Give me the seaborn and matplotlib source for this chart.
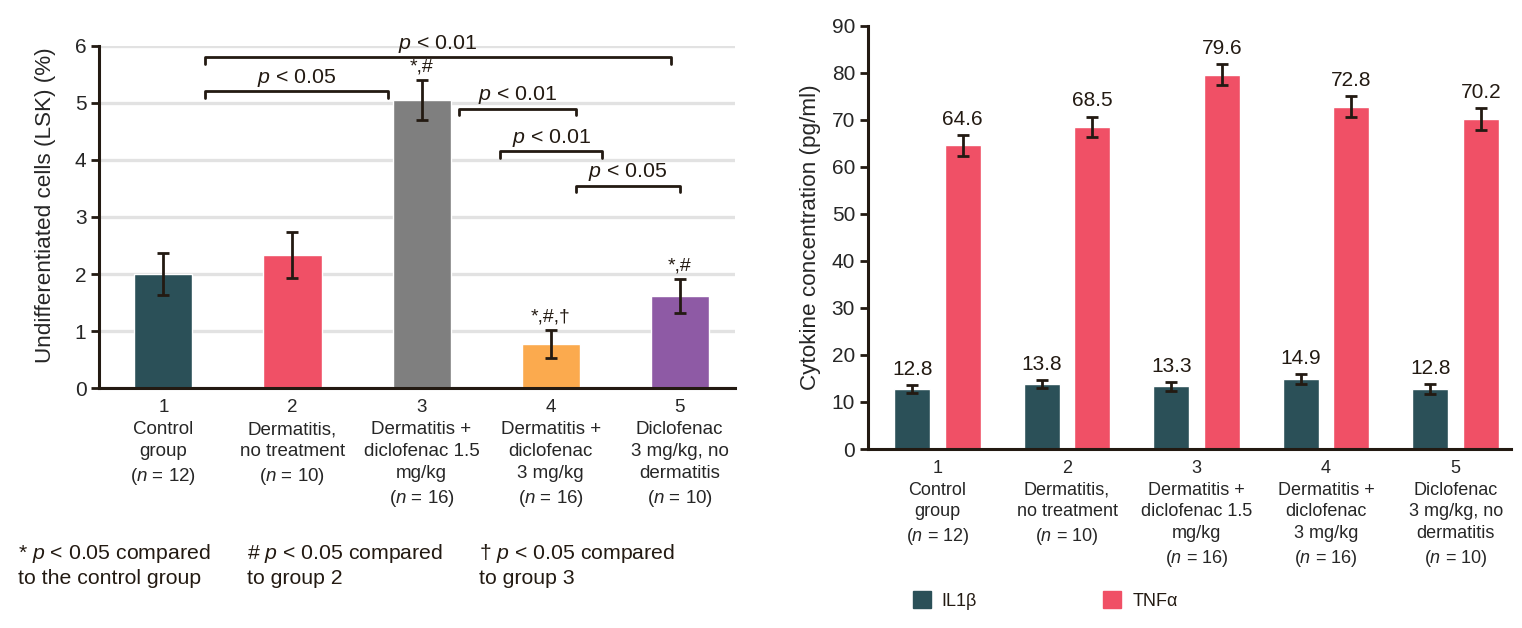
import numpy as np
import pandas as pd
import matplotlib
matplotlib.use("Agg")
import matplotlib.pyplot as plt
from matplotlib.patches import Patch
import seaborn as sns

# ---- data: left panel (LSK cells) ----
groups = ["1", "2", "3", "4", "5"]
group_labels = [
    "1\nControl\ngroup\n($\\mathit{n}$ = 12)",
    "2\nDermatitis,\nno treatment\n($\\mathit{n}$ = 10)",
    "3\nDermatitis +\ndiclofenac 1.5\nmg/kg\n($\\mathit{n}$ = 16)",
    "4\nDermatitis +\ndiclofenac\n3 mg/kg\n($\\mathit{n}$ = 16)",
    "5\nDiclofenac\n3 mg/kg, no\ndermatitis\n($\\mathit{n}$ = 10)",
]
lsk_mean = [2.0, 2.33, 5.05, 0.77, 1.61]
lsk_err = [0.37, 0.40, 0.35, 0.24, 0.30]
lsk_marks = ["", "", "*,#", "*,#,\u2020", "*,#"]
bar_colors = ["#2b5058", "#f05066", "#7f7f7f", "#fbaa4e", "#8e5aa5"]

# significance brackets: (x start, x end, height, label)
brackets = [
    (0.32, 3.93, 5.80, "$\\mathit{p}$ < 0.01"),
    (0.32, 1.74, 5.20, "$\\mathit{p}$ < 0.05"),
    (2.29, 3.20, 4.90, "$\\mathit{p}$ < 0.01"),
    (2.61, 3.40, 4.15, "$\\mathit{p}$ < 0.01"),
    (3.20, 4.00, 3.55, "$\\mathit{p}$ < 0.05"),
]

footnotes = [
    "* $\\mathit{p}$ < 0.05 compared\nto the control group",
    "# $\\mathit{p}$ < 0.05 compared\nto group 2",
    "\u2020 $\\mathit{p}$ < 0.05 compared\nto group 3",
]

# ---- data: right panel (cytokines) ----
cytokines = ["IL1\u03b2", "TNF\u03b1"]
il1b = [12.8, 13.8, 13.3, 14.9, 12.8]
il1b_err = [0.8, 0.8, 1.0, 1.0, 1.0]
tnfa = [64.6, 68.5, 79.6, 72.8, 70.2]
tnfa_err = [2.2, 2.2, 2.2, 2.3, 2.3]
cyto_colors = ["#2b5058", "#f05066"]

ink = "#231a12"

sns.set_style("white")
plt.rcParams["font.family"] = ["Liberation Sans", "DejaVu Sans"]
plt.rcParams["mathtext.fontset"] = "custom"
plt.rcParams["mathtext.it"] = "Liberation Sans:italic"
plt.rcParams["mathtext.rm"] = "Liberation Sans"
plt.rcParams["text.color"] = ink

fig = plt.figure(figsize=(15.22, 6.28), dpi=100)
ax1 = fig.add_axes([0.065, 0.382, 0.418, 0.545])
ax2 = fig.add_axes([0.570, 0.285, 0.423, 0.674])

# ---------- left panel ----------
df1 = pd.DataFrame({"group": groups, "lsk": lsk_mean})
sns.barplot(data=df1, x="group", y="lsk", hue="group", palette=bar_colors,
            legend=False, width=0.45, ax=ax1, saturation=1)
xs = np.arange(len(groups))
ax1.errorbar(xs, lsk_mean, yerr=lsk_err, fmt="none", ecolor=ink,
             elinewidth=2, capsize=4, capthick=2, zorder=4)
for x, m, e, s in zip(xs, lsk_mean, lsk_err, lsk_marks):
    if s:
        ax1.text(x, m + e + 0.08, s, ha="center", va="bottom", fontsize=14)

for x0, x1, h, lab in brackets:
    ax1.plot([x0, x0, x1, x1], [h - 0.12, h, h, h - 0.12], color=ink,
             lw=2, clip_on=False, zorder=5)
    ax1.text((x0 + x1) / 2, h + 0.04, lab, ha="center", va="bottom",
             fontsize=15.4)

ax1.set_ylim(0, 6)
ax1.set_xlim(-0.5, 4.43)
ax1.set_yticks(range(7))
ax1.yaxis.grid(True, color="#e2e2e2", lw=2.4)
ax1.set_axisbelow(True)
ax1.set_xticks(xs)
ax1.set_xticklabels(group_labels, fontsize=13.5, linespacing=1.38, va="top")
ax1.set_xlabel("")
ax1.set_ylabel("Undifferentiated cells (LSK) (%)", fontsize=16.2)
ax1.yaxis.set_label_coords(-0.068, 0.535)

# ---------- right panel ----------
df2 = pd.DataFrame({
    "group": groups * 2,
    "cytokine": [cytokines[0]] * 5 + [cytokines[1]] * 5,
    "conc": il1b + tnfa,
})
sns.barplot(data=df2, x="group", y="conc", hue="cytokine", palette=cyto_colors,
            width=0.78, gap=0.29, ax=ax2, saturation=1, legend=False)
for cont, vals, errs in zip(ax2.containers, [il1b, tnfa], [il1b_err, tnfa_err]):
    cx = [p.get_x() + p.get_width() / 2 for p in cont.patches]
    ax2.errorbar(cx, vals, yerr=errs, fmt="none", ecolor=ink, elinewidth=2,
                 capsize=4, capthick=2, zorder=4)
    for x, v, e in zip(cx, vals, errs):
        ax2.text(x, v + e + 1.3, f"{v:.1f}", ha="center", va="bottom",
                 fontsize=15)

ax2.set_ylim(0, 90)
ax2.set_xlim(-0.54, 4.43)
ax2.set_yticks(range(0, 91, 10))
ax2.set_xticks(xs)
ax2.set_xticklabels(group_labels, fontsize=13, linespacing=1.36, va="top")
ax2.set_xlabel("")
ax2.set_ylabel("Cytokine concentration (pg/ml)", fontsize=16.2, labelpad=8)

handles = [Patch(color=c) for c in cyto_colors]
ax2.legend(handles, cytokines, ncol=2, frameon=False, loc="center left",
           bbox_to_anchor=(0.045, -0.358), handlelength=1.0, handleheight=1.0,
           handletextpad=0.6, columnspacing=7.0, prop={"size": 13})

for ax in (ax1, ax2):
    for side in ("top", "right"):
        ax.spines[side].set_visible(False)
    for side in ("left", "bottom"):
        ax.spines[side].set_color(ink)
        ax.spines[side].set_linewidth(2.2)
    ax.tick_params(axis="y", direction="out", length=6, width=2, color=ink,
                   labelsize=15, pad=3, left=True)
    ax.tick_params(axis="x", length=0, pad=8)

# footnotes under left panel
for xf, txt in zip([0.012, 0.162, 0.315], footnotes):
    fig.text(xf, 0.10, txt, fontsize=15.3, va="center", linespacing=1.25)

fig.savefig("out.png", dpi=100)
